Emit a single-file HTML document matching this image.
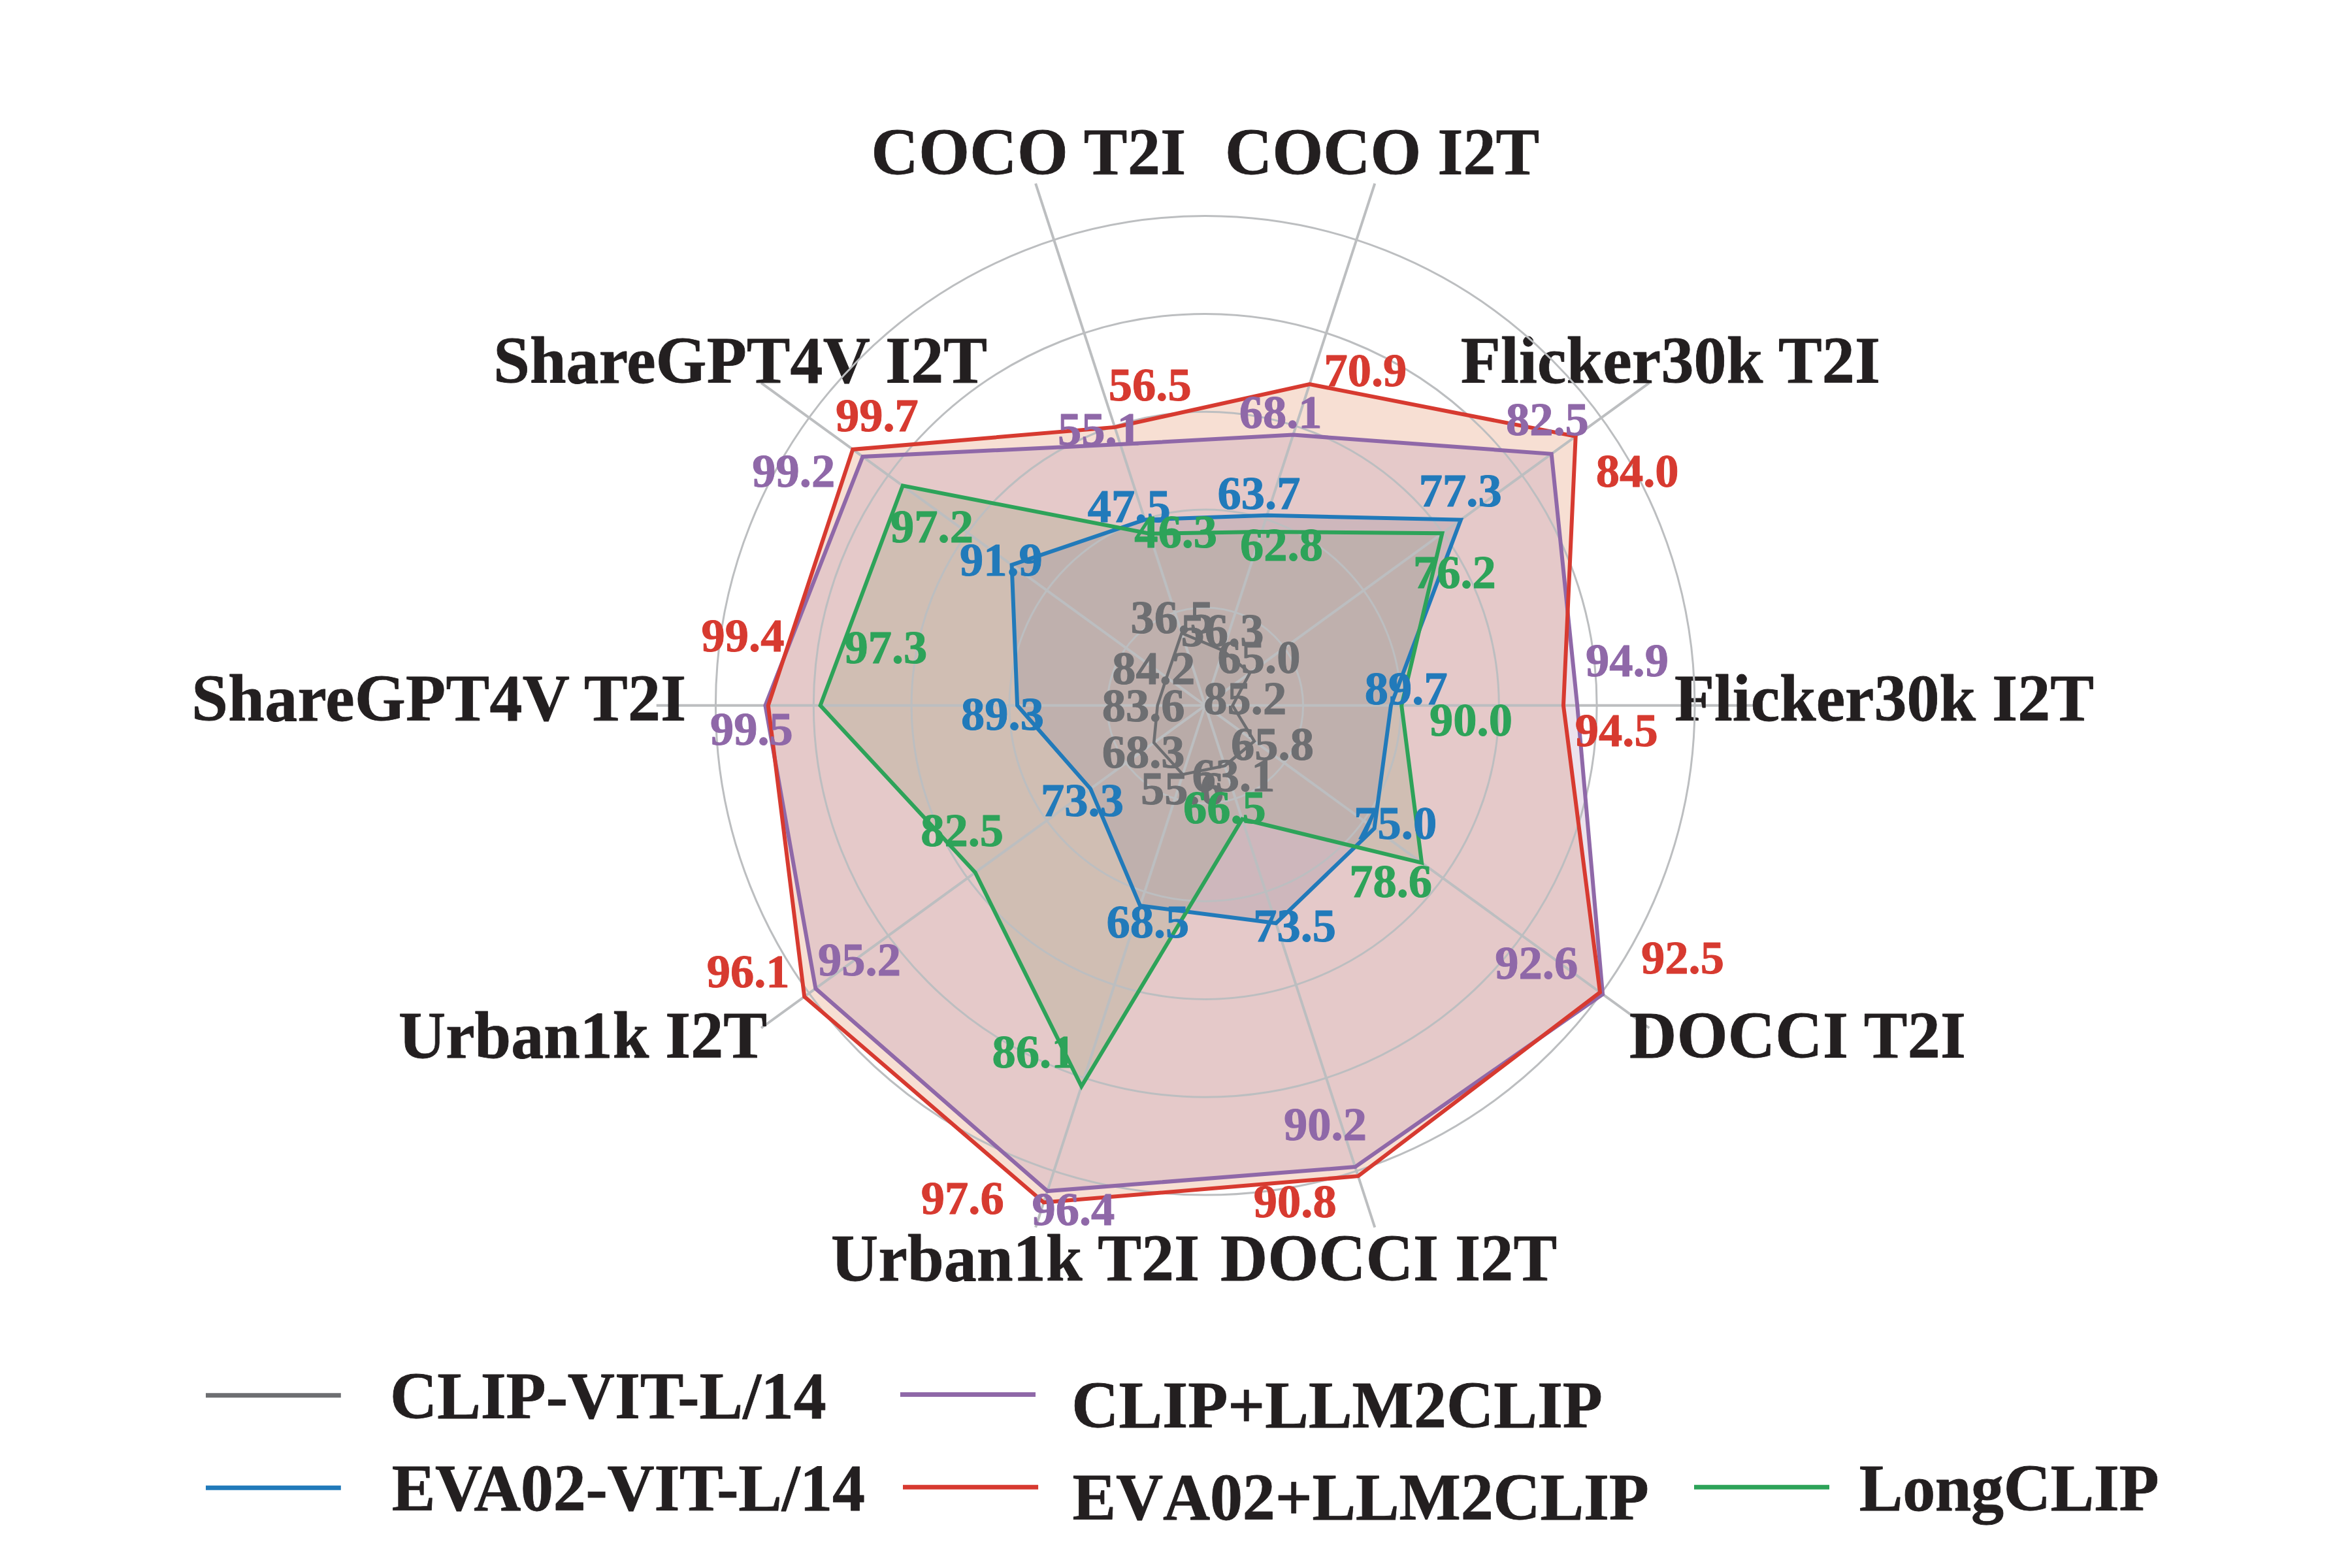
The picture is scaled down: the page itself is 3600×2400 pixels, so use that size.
<!DOCTYPE html>
<html><head><meta charset="utf-8"><title>Radar</title>
<style>html,body{margin:0;padding:0;background:#fff}svg{display:block}text{font-family:"Liberation Serif",serif;font-weight:bold;font-kerning:normal}.nk{font-kerning:none}</style></head>
<body>
<svg width="3600" height="2400" viewBox="0 0 3600 2400">
<rect width="3600" height="2400" fill="#fff"/>
<polygon points="1706.3,653.9 2004.5,588.1 2411.7,667.9 2393.0,1079.8 2449.0,1518.9 2078.8,1800.2 1597.5,1840.5 1231.2,1525.5 1175.8,1079.8 1305.3,687.9" fill="rgb(228,148,108)" fill-opacity="0.3"/>
<polygon points="1714.8,680.0 1979.3,665.6 2374.7,694.7 2414.2,1079.8 2453.1,1521.8 2074.2,1786.1 1603.2,1823.1 1248.4,1513.1 1171.4,1079.8 1320.5,698.9" fill="rgb(162,113,166)" fill-opacity="0.2"/>
<polygon points="1759.3,816.8 1931.1,814.0 2207.4,816.3 2145.2,1079.8 2176.1,1320.6 1901.3,1253.8 1655.3,1662.8 1492.7,1335.5 1255.6,1079.8 1381.7,743.4" fill="rgb(125,151,97)" fill-opacity="0.2"/>
<polygon points="1752.3,795.4 1939.3,788.8 2235.9,795.6 2129.0,1079.8 2103.6,1267.9 1953.0,1413.1 1745.1,1386.3 1669.1,1207.3 1557.1,1079.8 1548.6,864.7" fill="rgb(150,143,160)" fill-opacity="0.29"/>
<polygon points="1808.7,969.0 1872.0,995.6 1913.1,1030.1 1886.7,1079.8 1919.9,1134.5 1874.7,1172.1 1810.4,1185.4 1766.2,1136.8 1771.7,1079.8 1785.6,1036.9" fill="rgb(109,110,113)" fill-opacity="0.07"/>
<g stroke="#bcbec0" stroke-width="4">
<line x1="1844.7" y1="1079.8" x2="1585.1" y2="280.9"/>
<line x1="1844.7" y1="1079.8" x2="2104.3" y2="280.9"/>
<line x1="1844.7" y1="1079.8" x2="2524.3" y2="586.1"/>
<line x1="1844.7" y1="1079.8" x2="2684.7" y2="1079.8"/>
<line x1="1844.7" y1="1079.8" x2="2524.3" y2="1573.5"/>
<line x1="1844.7" y1="1079.8" x2="2104.3" y2="1878.7"/>
<line x1="1844.7" y1="1079.8" x2="1585.1" y2="1878.7"/>
<line x1="1844.7" y1="1079.8" x2="1165.1" y2="1573.5"/>
<line x1="1844.7" y1="1079.8" x2="1004.7" y2="1079.8"/>
<line x1="1844.7" y1="1079.8" x2="1165.1" y2="586.1"/>
</g>
<g font-size="100" fill="#231f20" stroke="#231f20" stroke-width="0.8" stroke-linejoin="round">
<text transform="translate(1333.5 266.8) scale(1 1.015)" textLength="481.8" lengthAdjust="spacing">COCO T2I</text>
<text transform="translate(1875.1 266.8) scale(1 1.015)" textLength="481.1" lengthAdjust="spacing">COCO I2T</text>
<text transform="translate(2235.8 585.6) scale(1 1.015)" textLength="642.1" lengthAdjust="spacing">Flicker30k T2I</text>
<text transform="translate(2562.9 1102.8) scale(1 1.015)" textLength="642.0" lengthAdjust="spacing">Flicker30k I2T</text>
<text transform="translate(2494.1 1618.5) scale(1 1.015)" textLength="514.9" lengthAdjust="spacing">DOCCI T2I</text>
<text transform="translate(1868.1 1960.3) scale(1 1.015)" textLength="515.0" lengthAdjust="spacing">DOCCI I2T</text>
<text transform="translate(1272.0 1960.3) scale(1 1.015)" textLength="564.2" lengthAdjust="spacing">Urban1k T2I</text>
<text transform="translate(610.0 1619.2) scale(1 1.015)" textLength="563.9" lengthAdjust="spacing">Urban1k I2T</text>
<text transform="translate(293.3 1102.5) scale(1 1.015)" textLength="756.9" lengthAdjust="spacing">ShareGPT4V T2I</text>
<text transform="translate(755.2 585.8) scale(1 1.015)" textLength="755.8" lengthAdjust="spacing">ShareGPT4V I2T</text>
</g>
<g fill="none" stroke="#bcbec0" stroke-width="3">
<circle cx="1844.7" cy="1079.8" r="149.9"/>
<circle cx="1844.7" cy="1079.8" r="299.7"/>
<circle cx="1844.7" cy="1079.8" r="449.6"/>
<circle cx="1844.7" cy="1079.8" r="599.4"/>
<circle cx="1844.7" cy="1079.8" r="749.3"/>
</g>
<polygon points="1808.7,969.0 1872.0,995.6 1913.1,1030.1 1886.7,1079.8 1919.9,1134.5 1874.7,1172.1 1810.4,1185.4 1766.2,1136.8 1771.7,1079.8 1785.6,1036.9" fill="none" stroke="#6d6e71" stroke-width="4.5" stroke-linejoin="miter" stroke-miterlimit="10"/>
<polygon points="1752.3,795.4 1939.3,788.8 2235.9,795.6 2129.0,1079.8 2103.6,1267.9 1953.0,1413.1 1745.1,1386.3 1669.1,1207.3 1557.1,1079.8 1548.6,864.7" fill="none" stroke="#217aba" stroke-width="6" stroke-linejoin="miter" stroke-miterlimit="10"/>
<polygon points="1759.3,816.8 1931.1,814.0 2207.4,816.3 2145.2,1079.8 2176.1,1320.6 1901.3,1253.8 1655.3,1662.8 1492.7,1335.5 1255.6,1079.8 1381.7,743.4" fill="none" stroke="#2da359" stroke-width="6" stroke-linejoin="miter" stroke-miterlimit="10"/>
<polygon points="1714.8,680.0 1979.3,665.6 2374.7,694.7 2414.2,1079.8 2453.1,1521.8 2074.2,1786.1 1603.2,1823.1 1248.4,1513.1 1171.4,1079.8 1320.5,698.9" fill="none" stroke="#8f68a8" stroke-width="6" stroke-linejoin="miter" stroke-miterlimit="10"/>
<polygon points="1706.3,653.9 2004.5,588.1 2411.7,667.9 2393.0,1079.8 2449.0,1518.9 2078.8,1800.2 1597.5,1840.5 1231.2,1525.5 1175.8,1079.8 1305.3,687.9" fill="none" stroke="#d73a30" stroke-width="6" stroke-linejoin="miter" stroke-miterlimit="10"/>
<g font-size="72.5" class="nk" stroke-width="1" stroke-linejoin="round">
<text transform="translate(1730.6 969.4) scale(1 1.0)" fill="#6d6e71" stroke="#6d6e71">36.5</text>
<text transform="translate(1807.6 989.4) scale(1 1.0)" fill="#6d6e71" stroke="#6d6e71">56.3</text>
<text transform="translate(1863.5 1029.6) scale(1 1.0)" fill="#6d6e71" stroke="#6d6e71">65.0</text>
<text transform="translate(1702.3 1046.8) scale(1 1.0)" fill="#6d6e71" stroke="#6d6e71">84.2</text>
<text transform="translate(1842.3 1093.4) scale(1 1.0)" fill="#6d6e71" stroke="#6d6e71">85.2</text>
<text transform="translate(1686.7 1104.2) scale(1 1.0)" fill="#6d6e71" stroke="#6d6e71">83.6</text>
<text transform="translate(1884.1 1162.7) scale(1 1.0)" fill="#6d6e71" stroke="#6d6e71">65.8</text>
<text transform="translate(1686.7 1175.4) scale(1 1.0)" fill="#6d6e71" stroke="#6d6e71">68.3</text>
<text transform="translate(1824.5 1211.4) scale(1 1.0)" fill="#6d6e71" stroke="#6d6e71">63.1</text>
<text transform="translate(1746.0 1230.5) scale(1 1.0)" fill="#6d6e71" stroke="#6d6e71">55.6</text>
<text transform="translate(1278.9 660.4) scale(1 1.0)" fill="#d73a30" stroke="#d73a30">99.7</text>
<text transform="translate(1151.3 745.1) scale(1 1.0)" fill="#8f68a8" stroke="#8f68a8">99.2</text>
<text transform="translate(1363.0 830.1) scale(1 1.0)" fill="#2da359" stroke="#2da359">97.2</text>
<text transform="translate(1468.9 881.0) scale(1 1.0)" fill="#217aba" stroke="#217aba">91.9</text>
<text transform="translate(1696.8 613.2) scale(1 1.0)" fill="#d73a30" stroke="#d73a30">56.5</text>
<text transform="translate(1619.0 680.8) scale(1 1.0)" fill="#8f68a8" stroke="#8f68a8">55.1</text>
<text transform="translate(1896.7 654.8) scale(1 1.0)" fill="#8f68a8" stroke="#8f68a8">68.1</text>
<text transform="translate(1664.8 799.0) scale(1 1.0)" fill="#217aba" stroke="#217aba">47.5</text>
<text transform="translate(1863.6 778.6) scale(1 1.0)" fill="#217aba" stroke="#217aba">63.7</text>
<text transform="translate(1736.2 837.7) scale(1 1.0)" fill="#2da359" stroke="#2da359">46.3</text>
<text transform="translate(1898.0 858.1) scale(1 1.0)" fill="#2da359" stroke="#2da359">62.8</text>
<text transform="translate(2026.4 590.8) scale(1 1.0)" fill="#d73a30" stroke="#d73a30">70.9</text>
<text transform="translate(2304.9 666.3) scale(1 1.0)" fill="#8f68a8" stroke="#8f68a8">82.5</text>
<text transform="translate(2442.7 745.4) scale(1 1.0)" fill="#d73a30" stroke="#d73a30">84.0</text>
<text transform="translate(2171.8 775.2) scale(1 1.0)" fill="#217aba" stroke="#217aba">77.3</text>
<text transform="translate(2162.9 900.2) scale(1 1.0)" fill="#2da359" stroke="#2da359">76.2</text>
<text transform="translate(2088.8 1077.8) scale(1 1.0)" fill="#217aba" stroke="#217aba">89.7</text>
<text transform="translate(2188.1 1125.5) scale(1 1.0)" fill="#2da359" stroke="#2da359">90.0</text>
<text transform="translate(2427.1 1034.9) scale(1 1.0)" fill="#8f68a8" stroke="#8f68a8">94.9</text>
<text transform="translate(2410.8 1142.1) scale(1 1.0)" fill="#d73a30" stroke="#d73a30">94.5</text>
<text transform="translate(2072.3 1284.0) scale(1 1.0)" fill="#217aba" stroke="#217aba">75.0</text>
<text transform="translate(2065.2 1373.0) scale(1 1.0)" fill="#2da359" stroke="#2da359">78.6</text>
<text transform="translate(2288.3 1498.4) scale(1 1.0)" fill="#8f68a8" stroke="#8f68a8">92.6</text>
<text transform="translate(2512.0 1490.3) scale(1 1.0)" fill="#d73a30" stroke="#d73a30">92.5</text>
<text transform="translate(1693.4 1434.7) scale(1 1.0)" fill="#217aba" stroke="#217aba">68.5</text>
<text transform="translate(1918.2 1441.1) scale(1 1.0)" fill="#217aba" stroke="#217aba">73.5</text>
<text transform="translate(1518.5 1634.0) scale(1 1.0)" fill="#2da359" stroke="#2da359">86.1</text>
<text transform="translate(1810.9 1259.9) scale(1 1.0)" fill="#2da359" stroke="#2da359">66.5</text>
<text transform="translate(1409.8 1857.7) scale(1 1.0)" fill="#d73a30" stroke="#d73a30">97.6</text>
<text transform="translate(1579.4 1875.2) scale(1 1.0)" fill="#8f68a8" stroke="#8f68a8">96.4</text>
<text transform="translate(1918.8 1863.3) scale(1 1.0)" fill="#d73a30" stroke="#d73a30">90.8</text>
<text transform="translate(1965.0 1745.2) scale(1 1.0)" fill="#8f68a8" stroke="#8f68a8">90.2</text>
<text transform="translate(1081.7 1511.2) scale(1 1.0)" fill="#d73a30" stroke="#d73a30">96.1</text>
<text transform="translate(1252.1 1492.8) scale(1 1.0)" fill="#8f68a8" stroke="#8f68a8">95.2</text>
<text transform="translate(1409.2 1294.9) scale(1 1.0)" fill="#2da359" stroke="#2da359">82.5</text>
<text transform="translate(1086.9 1139.5) scale(1 1.0)" fill="#8f68a8" stroke="#8f68a8">99.5</text>
<text transform="translate(1073.5 997.4) scale(1 1.0)" fill="#d73a30" stroke="#d73a30">99.4</text>
<text transform="translate(1292.4 1015.0) scale(1 1.0)" fill="#2da359" stroke="#2da359">97.3</text>
<text transform="translate(1471.0 1116.6) scale(1 1.0)" fill="#217aba" stroke="#217aba">89.3</text>
<text transform="translate(1593.0 1249.2) scale(1 1.0)" fill="#217aba" stroke="#217aba">73.3</text>
</g>
<g font-size="100" fill="#231f20">
<line x1="315.0" y1="2135.7" x2="521.8" y2="2135.7" stroke="#6d6e71" stroke-width="7"/>
<text stroke="#231f20" stroke-width="0.8" stroke-linejoin="round" transform="translate(597.0 2170.7) scale(1 1.015)" textLength="667.8" lengthAdjust="spacing">CLIP-VIT-L/14</text>
<line x1="315.0" y1="2277.2" x2="521.8" y2="2277.2" stroke="#217aba" stroke-width="7"/>
<text stroke="#231f20" stroke-width="0.8" stroke-linejoin="round" transform="translate(599.7 2311.9) scale(1 1.015)" textLength="724.3" lengthAdjust="spacing">EVA02-VIT-L/14</text>
<line x1="1377.9" y1="2134.4" x2="1585.0" y2="2134.4" stroke="#8f68a8" stroke-width="7"/>
<text stroke="#231f20" stroke-width="0.8" stroke-linejoin="round" transform="translate(1640.3 2185.1) scale(1 1.015)" class="nk">CLIP+LLM2CLIP</text>
<line x1="1382.0" y1="2276.2" x2="1589.1" y2="2276.2" stroke="#d73a30" stroke-width="7"/>
<text stroke="#231f20" stroke-width="0.8" stroke-linejoin="round" transform="translate(1641.5 2325.5) scale(1 1.015)" textLength="882.3" lengthAdjust="spacing" class="nk">EVA02+LLM2CLIP</text>
<line x1="2593.0" y1="2276.2" x2="2800.0" y2="2276.2" stroke="#2da359" stroke-width="7"/>
<text stroke="#231f20" stroke-width="0.8" stroke-linejoin="round" transform="translate(2845.8 2311.7) scale(1 1.015)" textLength="458.7" lengthAdjust="spacing">LongCLIP</text>
</g>
</svg>
</body></html>
